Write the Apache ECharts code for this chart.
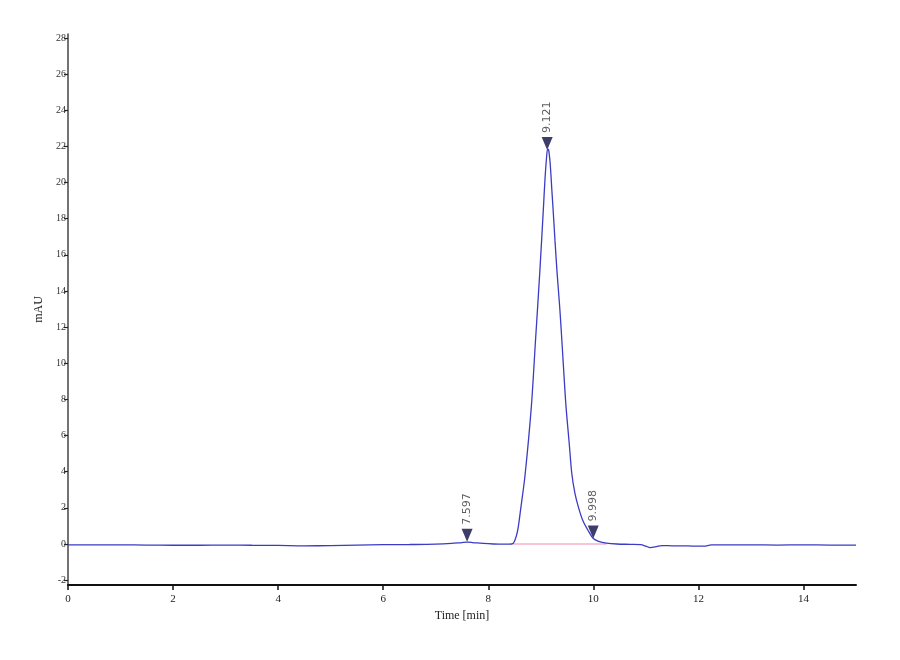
<!DOCTYPE html>
<html>
<head>
<meta charset="UTF-8">
<title>Chromatogram</title>
<script src="https://cdn.jsdelivr.net/npm/echarts@6.0.0/dist/echarts.min.js"></script>
<style type="text/css">
body{margin:0;padding:0;background:#fff;}
#main{width:900px;height:660px;}
</style>
</head>
<body>
<div id="main"></div>
<script type="text/javascript">
// trace (time in min, signal in mAU)
var times = [0, 0.5, 1, 1.5, 2, 2.5, 3, 3.5, 4, 4.5, 5, 5.5, 6, 6.5, 7, 7.3, 7.5, 7.6, 7.7, 7.9, 8.1, 8.3,
  8.45, 8.5, 8.56, 8.62, 8.7, 8.82, 8.9, 8.98, 9.05, 9.08, 9.11, 9.13, 9.15, 9.18, 9.21, 9.23, 9.27, 9.31, 9.36, 9.4,
  9.44, 9.48, 9.54, 9.59, 9.65, 9.72, 9.8, 9.91, 10, 10.1, 10.25, 10.45, 10.7, 10.9, 11, 11.08, 11.2,
  11.3, 11.5, 11.8, 12.1, 12.25, 12.6, 13, 13.5, 14, 14.5, 15];
var signal = [-0.05, -0.05, -0.05, -0.06, -0.07, -0.07, -0.06, -0.07, -0.08, -0.1, -0.09, -0.06, -0.04, -0.03, -0.01, 0.03, 0.08, 0.1, 0.08, 0.03, 0, -0.01,
  0, 0.15, 0.75, 2, 3.8, 7.6, 11.3, 15, 18.6, 20.2, 21.4, 21.85, 21.8, 21.0, 19.6, 18.7, 16.8, 15, 13.1, 11.3,
  9.4, 7.6, 5.6, 3.9, 2.8, 2, 1.3, 0.7, 0.3, 0.15, 0.05, 0, -0.02, -0.04, -0.12, -0.2, -0.15,
  -0.09, -0.1, -0.11, -0.12, -0.05, -0.05, -0.05, -0.06, -0.05, -0.06, -0.06];

// integration baseline
var baseTimes = [8.48, 10.25];
var baseValues = [0, 0];

// peak markers
var peakTimes = [7.597, 9.121, 9.998];
var peakValues = [0.12, 21.8, 0.3];
var peakLabels = ['7.597', '9.121', '9.998'];

var xTicks = [0, 2, 4, 6, 8, 10, 12, 14];
var yTicks = [-2, 0, 2, 4, 6, 8, 10, 12, 14, 16, 18, 20, 22, 24, 26, 28];

var chart = echarts.init(document.getElementById('main'));

chart.setOption({
  animation: false,
  grid: { left: 68, right: 44, top: 34, bottom: 75 },
  xAxis: {
    type: 'value',
    min: 0,
    max: 15,
    name: 'Time [min]',
    nameLocation: 'middle',
    nameGap: 24,
    nameTextStyle: { fontFamily: 'Liberation Serif', fontSize: 12, color: '#222' },
    splitLine: { show: false },
    axisLine: { onZero: false, lineStyle: { color: '#111', width: 2 } },
    axisTick: { length: 5, lineStyle: { color: '#111', width: 1.5 }, customValues: xTicks },
    axisLabel: { customValues: xTicks, margin: 9, fontFamily: 'Liberation Serif', fontSize: 11, color: '#222' }
  },
  yAxis: {
    type: 'value',
    min: -2.27,
    max: 28.22,
    name: 'mAU',
    nameLocation: 'middle',
    nameGap: 22,
    nameRotate: 90,
    nameTextStyle: { fontFamily: 'Liberation Serif', fontSize: 12, color: '#222' },
    splitLine: { show: false },
    axisLine: { onZero: false, lineStyle: { color: '#444', width: 1.5 } },
    axisTick: { length: 4, lineStyle: { color: '#222', width: 1.2 }, customValues: yTicks },
    axisLabel: { customValues: yTicks, margin: 2, fontFamily: 'Liberation Serif', fontSize: 10, color: '#333' }
  },
  series: [
    {
      name: 'baseline',
      type: 'line',
      symbol: 'none',
      lineStyle: { color: '#f08cb0', width: 1.2 },
      data: baseTimes.map(function (t, i) { return [t, baseValues[i]]; })
    },
    {
      name: 'signal',
      type: 'line',
      symbol: 'none',
      smooth: 0.3,
      lineStyle: { color: '#3b3bc4', width: 1.3 },
      data: times.map(function (t, i) { return [t, signal[i]]; })
    },
    {
      name: 'peaks',
      type: 'scatter',
      symbol: 'path://M0,0 L10,0 L5,13 Z',
      symbolSize: [11, 13],
      symbolOffset: [0, '-50%'],
      itemStyle: { color: '#0c0c44' },
      label: {
        show: true,
        position: 'top',
        distance: 4,
        rotate: 90,
        align: 'left',
        verticalAlign: 'middle',
        fontFamily: 'DejaVu Sans',
        fontSize: 11,
        color: '#333',
        formatter: function (p) { return peakLabels[p.dataIndex]; }
      },
      data: peakTimes.map(function (t, i) { return [t, peakValues[i]]; })
    }
  ]
});
</script>
</body>
</html>
